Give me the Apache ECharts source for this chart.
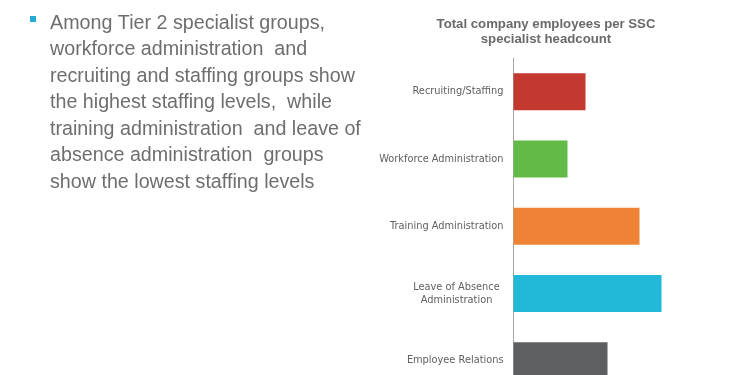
<!DOCTYPE html>
<html>
<head>
<meta charset="utf-8">
<script src="https://cdn.jsdelivr.net/npm/echarts@6/dist/echarts.min.js"></script>
<style>
html,body{margin:0;padding:0;background:#fff;}
#main{width:740px;height:375px;}
</style>
</head>
<body>
<div id="main"></div>
<script>
const categories = ['Recruiting/Staffing', 'Workforce Administration', 'Training Administration', 'Leave of Absence\nAdministration', 'Employee Relations'];
const values = [72, 54, 126, 148, 94];
const barColors = ['#C3392F', '#63BB47', '#EE8235', '#22B8D8', '#5E5F61'];
const titleText = 'Total company employees per SSC\nspecialist headcount';
const bulletLines = [
  'Among Tier 2 specialist groups,',
  'workforce administration  and',
  'recruiting and staffing groups show',
  'the highest staffing levels,  while',
  'training administration  and leave of',
  'absence administration  groups',
  'show the lowest staffing levels'
];

const chart = echarts.init(document.getElementById('main'));
chart.setOption({
  animation: false,
  backgroundColor: '#fff',
  title: {
    text: titleText,
    left: 541, textAlign: 'center', top: 12,
    textStyle: { fontFamily: 'Liberation Sans', fontSize: 13.2, fontWeight: 'bold', color: '#6a6a6a', lineHeight: 15 }
  },
  graphic: [
    { type: 'rect', shape: { x: 30, y: 16, width: 6, height: 6 }, style: { fill: '#26A9D2' } },
    { type: 'text', left: 50, top: 10, style: {
        text: bulletLines.join('\n'),
        font: '19.7px "Liberation Sans"', fill: '#6e6e6e', lineHeight: 26.5
    } }
  ],
  grid: { left: 513.5, top: 58, width: 200, height: 336.5, outerBoundsMode: 'none', containLabel: false },
  xAxis: { type: 'value', min: 0, max: 200, show: false },
  yAxis: {
    type: 'category', inverse: true, data: categories,
    axisLine: { show: true, lineStyle: { color: '#a8a8a8', width: 1 } },
    axisTick: { show: false },
    axisLabel: {
      margin: 10, color: '#606060', fontFamily: 'DejaVu Sans', fontSize: 9.8,
      formatter: function (v) {
        if (v.indexOf('\n') >= 0) return '{c|' + v.split('\n').join('}\n{c|') + '}';
        return v;
      },
      rich: { c: { width: 94, align: 'center', fontFamily: 'DejaVu Sans', fontSize: 9.8, color: '#606060', lineHeight: 13 } }
    }
  },
  series: [{
    type: 'bar', barWidth: '55%',
    data: values.map((v, i) => ({ value: v, itemStyle: { color: barColors[i] } }))
  }]
});
</script>
</body>
</html>
